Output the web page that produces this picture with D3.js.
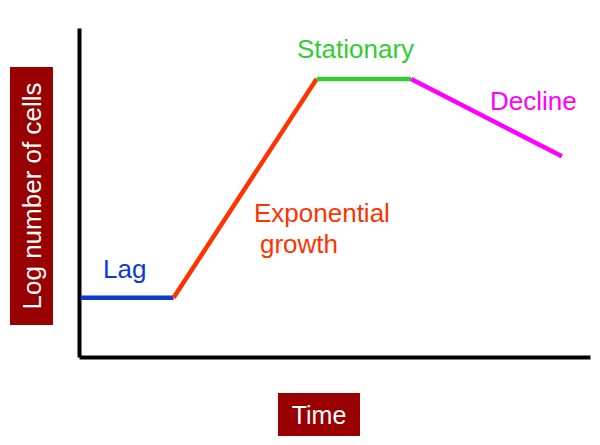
<!DOCTYPE html>
<html><head><meta charset="utf-8">
<script src="https://cdn.jsdelivr.net/npm/d3@7"></script>
<style>html,body{margin:0;padding:0;background:#fff;}svg{display:block;font-family:"Liberation Sans",Arial,sans-serif;}</style>
</head><body>
<script>
// Growth curve phases (time units, log cell counts)
const phases = ["Lag", "Exponential growth", "Stationary", "Decline"];
const phaseColors = ["#0b3bd1", "#ff3300", "#33cc33", "#ff00ff"];
const times = [0.08, 3.7, 9.3, 13.0, 18.9];
const logCells = [1.8, 1.8, 8.45, 8.45, 6.1];
const xTitle = "Time";
const yTitle = "Log number of cells";

const W = 600, H = 445;
const svg = d3.select("body").append("svg").attr("width", W).attr("height", H);

const x = d3.scaleLinear().domain([0, 20]).range([79, 590]);
const y = d3.scaleLinear().domain([0, 10]).range([357, 28]);

// axes (no ticks)
svg.append("g").attr("transform", `translate(0,${y(0)})`)
  .call(d3.axisBottom(x).tickValues([]).tickSizeOuter(0))
  .select(".domain").attr("stroke", "#000").attr("stroke-width", 4);
svg.append("g").attr("transform", `translate(${x(0)},0)`)
  .call(d3.axisLeft(y).tickValues([]).tickSizeOuter(0))
  .select(".domain").attr("stroke", "#000").attr("stroke-width", 4);

// phase segments
phases.forEach((p, i) => {
  svg.append("line")
    .attr("x1", x(times[i])).attr("y1", y(logCells[i]))
    .attr("x2", x(times[i + 1])).attr("y2", y(logCells[i + 1]))
    .attr("stroke", phaseColors[i]).attr("stroke-width", 4.5)
    .attr("stroke-linecap", "butt");
});

// phase labels
const lbl = (t, px, py, c) => svg.append("text").attr("x", px).attr("y", py)
  .attr("fill", c).attr("font-size", 26).text(t);
lbl("Lag", 103, 278, phaseColors[0]);
lbl("Exponential", 254, 222, phaseColors[1]);
lbl("growth", 260, 253, phaseColors[1]);
lbl("Stationary", 297, 58, phaseColors[2]);
lbl("Decline", 490, 110, phaseColors[3]);

// axis titles in boxes
svg.append("rect").attr("x", 10).attr("y", 67).attr("width", 43).attr("height", 258).attr("fill", "#990000");
svg.append("text").attr("transform", "translate(41,196) rotate(-90)")
  .attr("text-anchor", "middle").attr("fill", "#fff").attr("font-size", 26).text(yTitle);

svg.append("rect").attr("x", 278).attr("y", 393).attr("width", 82).attr("height", 43).attr("fill", "#990000");
svg.append("text").attr("x", 319).attr("y", 424)
  .attr("text-anchor", "middle").attr("fill", "#fff").attr("font-size", 25).text(xTitle);
</script>
</body></html>
